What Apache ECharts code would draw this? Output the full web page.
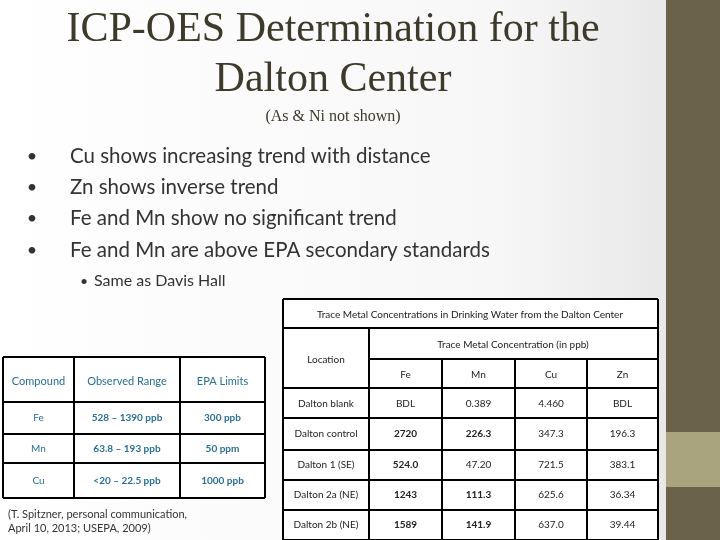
<!DOCTYPE html>
<html>
<head>
<meta charset="utf-8">
<script src="https://cdn.jsdelivr.net/npm/echarts@6/dist/echarts.min.js"></script>
<style>html,body{margin:0;padding:0;}#slide{width:720px;height:540px;}</style>
</head>
<body>
<div id="slide"></div>
<script>
var titleLines = ['ICP-OES Determination for the', 'Dalton Center'];
var subtitle = '(As & Ni not shown)';
var bullets = ['Cu shows increasing trend with distance', 'Zn shows inverse trend',
  'Fe and Mn show no significant trend', 'Fe and Mn are above EPA secondary standards'];
var subBullet = 'Same as Davis Hall';

var compounds = ['Fe', 'Mn', 'Cu'];
var observedRange = ['528 \u2013 1390 ppb', '63.8 \u2013 193 ppb', '<20 \u2013 22.5 ppb'];
var epaLimits = ['300 ppb', '50 ppm', '1000 ppb'];
var note = ['(T. Spitzner, personal communication,', 'April 10, 2013; USEPA, 2009)'];

var metals = ['Fe', 'Mn', 'Cu', 'Zn'];
var locations = ['Dalton blank', 'Dalton control', 'Dalton 1 (SE)', 'Dalton 2a (NE)', 'Dalton 2b (NE)'];
var feVals = ['BDL', '2720', '524.0', '1243', '1589'];
var mnVals = ['0.389', '226.3', '47.20', '111.3', '141.9'];
var cuVals = ['4.460', '347.3', '721.5', '625.6', '637.0'];
var znVals = ['BDL', '196.3', '383.1', '36.34', '39.44'];
var feBold = [false, true, true, true, true];
var mnBold = [false, true, false, true, true];

var els = [];
var FONT = 'Lato, "Open Sans", sans-serif';
function txt(x, y, s, size, color, opts) {
  opts = opts || {};
  els.push({type: 'text', x: x, y: y, z: opts.z || 10, style: {
    text: s, fontSize: size, fill: color, fontFamily: opts.font || FONT,
    fontWeight: opts.bold ? 'bold' : 'normal', align: opts.align || 'center', verticalAlign: 'middle'}});
}
function rect(x, y, w, h, fill, z) {
  els.push({type: 'rect', z: z || 1, shape: {x: x, y: y, width: w, height: h}, style: {fill: fill}});
}
function line(x1, y1, x2, y2, z, lw) {
  els.push({type: 'line', z: z || 5, shape: {x1: x1, y1: y1, x2: x2, y2: y2},
    style: {stroke: '#000', lineWidth: lw || 1.5}});
}

// background and side band
els.push({type: 'rect', z: 0, shape: {x: 0, y: 0, width: 666, height: 540},
  style: {fill: new echarts.graphic.LinearGradient(0, 0, 1, 0, [
    {offset: 0, color: '#ffffff'}, {offset: 0.75, color: '#f7f7f7'}, {offset: 1, color: '#e8e8e8'}])}});
rect(666, 0, 54, 540, '#6b624a', 1);
rect(666, 432, 54, 55, '#a9a47d', 2);

// title area
var titleColor = '#3d3a2c';
txt(333, 30, titleLines[0], 42, titleColor, {font: '"Liberation Serif", serif'});
txt(333, 80, titleLines[1], 42, titleColor, {font: '"Liberation Serif", serif'});
txt(333, 117, subtitle, 16, titleColor, {font: '"Liberation Serif", serif'});
bullets.forEach(function (b, i) {
  var y = 156 + i * 31.3;
  txt(32, y, '\u2022', 18, '#333');
  txt(70, y, b, 20.5, '#333', {align: 'left'});
});
txt(84, 281, '\u2022', 14, '#333');
txt(94, 281, subBullet, 16, '#333', {align: 'left'});

// left table
var blue = '#2a6f96';
var lx = [3, 74, 180, 265], ly = [357, 402, 434, 463, 498];
rect(3, 357, 262, 141, '#ffffff', 3);
lx.forEach(function (x) { line(x, 357, x, 498, 4, 2); });
ly.forEach(function (y) { line(3, y, 265, y, 4, 2); });
['Compound', 'Observed Range', 'EPA Limits'].forEach(function (h, j) {
  txt((lx[j] + lx[j + 1]) / 2, (ly[0] + ly[1]) / 2 + 2, h, 11, blue, {z: 6});
});
compounds.forEach(function (c, i) {
  var y = (ly[i + 1] + ly[i + 2]) / 2;
  txt((lx[0] + lx[1]) / 2, y, c, 10, blue, {z: 6});
  txt((lx[1] + lx[2]) / 2, y, observedRange[i], 10, blue, {bold: true, z: 6});
  txt((lx[2] + lx[3]) / 2, y, epaLimits[i], 10, blue, {bold: true, z: 6});
});
txt(8, 514, note[0], 11, '#333', {align: 'left'});
txt(8, 528, note[1], 11, '#333', {align: 'left'});

// right table
var rx = [283, 369, 442, 515, 587, 658];
var ry = [388, 418, 450, 480, 510, 540];
rect(283, 299, 375, 245, '#ffffff', 6);
line(283, 299, 658, 299, 7, 2);
line(283, 328, 658, 328, 7, 2);
line(369, 359, 658, 359, 7, 2);
ry.forEach(function (y) { line(283, y, 658, y, 7, 2); });
line(283, 299, 283, 540, 7, 2);
line(658, 299, 658, 540, 7, 2);
rx.slice(1, 5).forEach(function (x, k) { line(x, k === 0 ? 328 : 359, x, 540, 7, 2); });
txt(470, 315, 'Trace Metal Concentrations in Drinking Water from the Dalton Center', 10, '#222', {z: 8});
txt(513, 345, 'Trace Metal Concentration (in ppb)', 10, '#222', {z: 8});
txt(326, 360, 'Location', 10, '#222', {z: 8});
metals.forEach(function (m, j) { txt((rx[j + 1] + rx[j + 2]) / 2, 375, m, 10, '#222', {z: 8}); });
var cols = [feVals, mnVals, cuVals, znVals];
var bolds = [feBold, mnBold, null, null];
var rowY = [404, 434, 465, 495, 525];
locations.forEach(function (loc, i) {
  txt(326, rowY[i], loc, 10, '#222', {z: 8});
  cols.forEach(function (col, j) {
    txt((rx[j + 1] + rx[j + 2]) / 2, rowY[i], col[i], 10, '#222',
      {z: 8, bold: bolds[j] ? bolds[j][i] : false});
  });
});

var chart = echarts.init(document.getElementById('slide'));
chart.setOption({graphic: {elements: els}});
</script>
</body>
</html>
